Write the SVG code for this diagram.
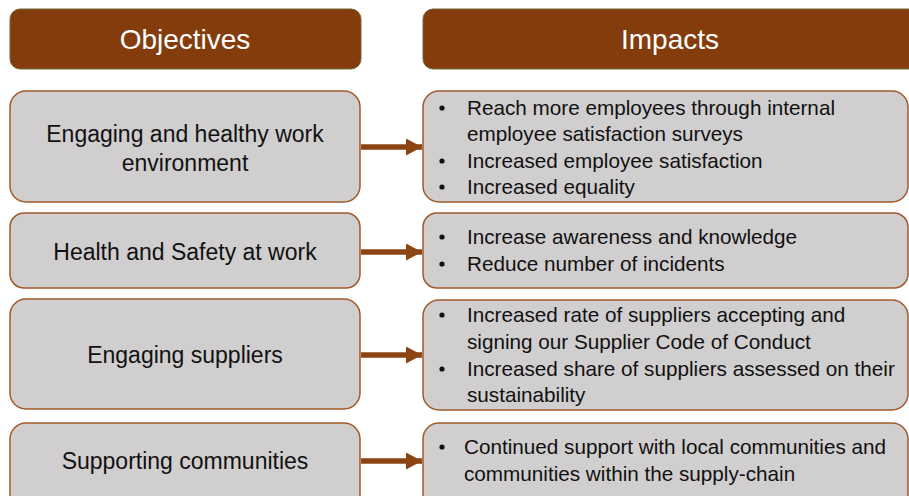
<svg xmlns="http://www.w3.org/2000/svg" width="909" height="496" viewBox="0 0 909 496">
<defs>
<style>
.hdr{fill:#843C0C;stroke:#6f6a3a;stroke-width:1}
.hdrt{font-family:"Liberation Sans",Arial,sans-serif;font-size:28px;fill:#ffffff;text-anchor:middle}
.box{fill:#D0CECE;stroke:#A0592A;stroke-width:1.5}
.lbl{font-family:"Liberation Sans",Arial,sans-serif;font-size:23px;fill:#111111;text-anchor:middle}
.imp{font-family:"Liberation Sans",Arial,sans-serif;font-size:20.7px;fill:#111111}
.bul{fill:#111111}
.con{stroke:#8B4513;stroke-width:5.5;fill:none}
</style>
<marker id="ah" viewBox="0 0 16 17" refX="16" refY="8.5" markerUnits="userSpaceOnUse" markerWidth="16" markerHeight="17" orient="auto">
<path d="M0,0 L16,8.5 L0,17 Z" fill="#8B4513"/>
</marker>
</defs>
<g id="header-objectives">
<rect class="hdr" x="10" y="9" width="351" height="60" rx="10"/>
<text class="hdrt" x="185" y="49">Objectives</text>
</g>
<g id="header-impacts">
<rect class="hdr" x="423" y="9" width="500" height="60" rx="10"/>
<text class="hdrt" x="670" y="49">Impacts</text>
</g>
<g id="obj1">
<rect class="box" x="10" y="91" width="350" height="111" rx="16"/>
<text class="lbl" x="185" y="142">Engaging and healthy work</text>
<text class="lbl" x="185" y="171">environment</text>
</g>
<g id="obj2">
<rect class="box" x="10" y="213" width="350" height="75" rx="14"/>
<text class="lbl" x="185" y="260">Health and Safety at work</text>
</g>
<g id="obj3">
<rect class="box" x="10" y="299" width="350" height="110" rx="16"/>
<text class="lbl" x="185" y="363">Engaging suppliers</text>
</g>
<g id="obj4">
<rect class="box" x="10" y="423" width="350" height="90" rx="16"/>
<text class="lbl" x="185" y="469">Supporting communities</text>
</g>
<g id="imp1">
<rect class="box" x="423" y="91" width="485" height="111" rx="16"/>
<circle class="bul" cx="442" cy="108" r="2.6"/>
<circle class="bul" cx="442" cy="161" r="2.6"/>
<circle class="bul" cx="442" cy="187" r="2.6"/>
<text class="imp" x="467" y="115">Reach more employees through internal</text>
<text class="imp" x="467" y="141">employee satisfaction surveys</text>
<text class="imp" x="467" y="168">Increased employee satisfaction</text>
<text class="imp" x="467" y="194">Increased equality</text>
</g>
<g id="imp2">
<rect class="box" x="423" y="213" width="485" height="75" rx="14"/>
<circle class="bul" cx="442" cy="237" r="2.6"/>
<circle class="bul" cx="442" cy="264" r="2.6"/>
<text class="imp" x="467" y="244">Increase awareness and knowledge</text>
<text class="imp" x="467" y="271">Reduce number of incidents</text>
</g>
<g id="imp3">
<rect class="box" x="423" y="300" width="485" height="110" rx="16"/>
<circle class="bul" cx="442" cy="315" r="2.6"/>
<circle class="bul" cx="442" cy="369" r="2.6"/>
<text class="imp" x="467" y="322">Increased rate of suppliers accepting and</text>
<text class="imp" x="467" y="349">signing our Supplier Code of Conduct</text>
<text class="imp" x="467" y="376">Increased share of suppliers assessed on their</text>
<text class="imp" x="467" y="402">sustainability</text>
</g>
<g id="imp4">
<rect class="box" x="423" y="423" width="485" height="90" rx="16"/>
<circle class="bul" cx="442" cy="447" r="2.6"/>
<text class="imp" x="464" y="454">Continued support with local communities and</text>
<text class="imp" x="464" y="481">communities within the supply-chain</text>
</g>
<g id="connectors">
<line class="con" x1="361" y1="147" x2="422" y2="147" marker-end="url(#ah)"/>
<line class="con" x1="361" y1="252" x2="422" y2="252" marker-end="url(#ah)"/>
<line class="con" x1="361" y1="355" x2="422" y2="355" marker-end="url(#ah)"/>
<line class="con" x1="361" y1="461" x2="422" y2="461" marker-end="url(#ah)"/>
</g>
</svg>
